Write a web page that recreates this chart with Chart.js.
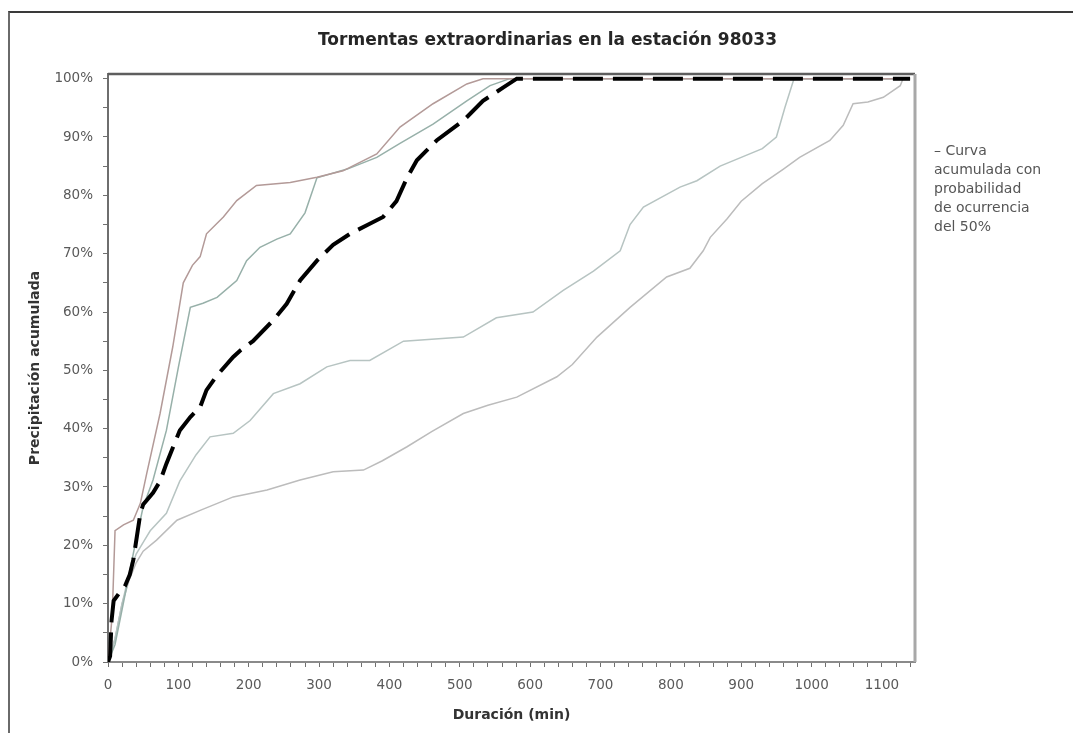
<!DOCTYPE html>
<html>
<head>
<meta charset="utf-8">
<title>Tormentas extraordinarias</title>
<script src="https://cdn.jsdelivr.net/npm/chart.js@4.4.1/dist/chart.umd.min.js"></script>
<style>
  html, body { margin: 0; background: #fff; }
  #page { position: relative; width: 1073px; height: 733px; overflow: hidden; background: #fff; }
  #frame { position: absolute; left: 8px; top: 11px; right: 0; bottom: 0; border-top: 2px solid #3a3a3a; border-left: 2px solid #6a6a6a; }
  #chart { position: absolute; left: 22px; top: 0; }
  #legend { position: absolute; left: 934px; top: 141px; width: 135px; font-family: "DejaVu Sans"; font-size: 14px; line-height: 19px; color: #555; white-space: nowrap; }
</style>
</head>
<body>
<div id="page">
  <div id="frame"></div>
  <canvas id="chart" width="1051" height="733"></canvas>
  <div id="legend"></div>
</div>
<script>
// curva con probabilidad del 50% (duración en min, precipitación acumulada en %)
const dur50 = [0, 3, 5, 8, 17, 24, 31, 36, 41, 46, 50, 64, 74, 83, 102, 117, 131, 140, 154, 178, 188, 206, 235, 254, 273, 297, 320, 344, 370, 391, 410, 425, 439, 467, 505, 533, 562, 581, 1140];
const pct50 = [0, 1, 7, 10.5, 12, 13, 15, 17.5, 21.5, 25.5, 27, 29, 31, 34, 39.7, 42, 43.7, 46.6, 49, 52.3, 53.4, 55, 58.6, 61.4, 65.4, 68.8, 71.5, 73.4, 75, 76.3, 79, 83, 86, 89.4, 92.8, 96.2, 98.5, 100, 100];

// tormentas individuales
const durA = [0, 6, 10, 22, 36, 46, 55, 74, 92, 107, 120, 131, 140, 164, 183, 211, 259, 297, 334, 382, 415, 462, 510, 533, 1140];
const pctA = [0, 8, 22.5, 23.5, 24.3, 27.2, 32.3, 42.6, 54, 65, 68, 69.5, 73.4, 76.3, 79.1, 81.7, 82.2, 83.1, 84.2, 87.1, 91.7, 95.7, 99.1, 100, 100];

const durB = [0, 10, 20, 30, 40, 50, 64, 83, 100, 117, 135, 155, 183, 197, 216, 240, 259, 280, 297, 340, 382, 415, 462, 510, 543, 571, 1140];
const pctB = [0, 3, 9, 15, 21, 26.6, 31.2, 39.7, 50.5, 60.8, 61.5, 62.5, 65.4, 68.8, 71.1, 72.5, 73.4, 77, 83, 84.5, 86.5, 88.9, 92.2, 96.2, 98.8, 100, 100];

const durD = [0, 10, 20, 30, 40, 50, 60, 83, 102, 125, 145, 178, 202, 235, 273, 311, 344, 372, 420, 505, 552, 604, 647, 690, 728, 742, 761, 813, 837, 870, 900, 930, 950, 962, 975, 1140];
const pctD = [0, 4, 10, 15, 18.5, 20.5, 22.5, 25.5, 31, 35.5, 38.6, 39.2, 41.4, 46, 47.7, 50.6, 51.7, 51.7, 55, 55.7, 59, 60, 63.7, 67, 70.5, 75, 78, 81.4, 82.5, 85, 86.5, 88, 90, 95, 100, 100];

const durE = [0, 10, 20, 30, 40, 50, 69, 98, 131, 178, 226, 273, 320, 363, 390, 425, 460, 505, 540, 581, 638, 660, 695, 742, 794, 827, 846, 856, 880, 900, 930, 960, 983, 1026, 1045, 1059, 1080, 1102, 1126, 1130, 1140];
const pctE = [0, 4, 10, 14, 17, 19, 20.9, 24.3, 26, 28.3, 29.5, 31.2, 32.6, 32.9, 34.5, 36.9, 39.5, 42.6, 44, 45.4, 48.9, 51, 55.7, 60.8, 66, 67.5, 70.5, 72.8, 76, 79, 82, 84.5, 86.5, 89.4, 92, 95.7, 96, 96.8, 98.8, 100, 100];

const legendLines = ["– Curva", "acumulada con", "probabilidad", "de ocurrencia", "del 50%"];

function pts(xs, ys) {
  return xs.map((x, i) => ({ x: x, y: ys[i] }));
}

document.getElementById("legend").innerHTML = legendLines.join("<br>");

const font = "DejaVu Sans";

// marco del área de trazado (arriba y derecha)
const framePlugin = {
  id: "frame",
  afterDatasetsDraw(chart) {
    const a = chart.chartArea;
    const ctx = chart.ctx;
    ctx.save();
    ctx.strokeStyle = "#5e5e5e";
    ctx.lineWidth = 2.5;
    ctx.beginPath();
    ctx.moveTo(a.left, a.top);
    ctx.lineTo(a.right, a.top);
    ctx.stroke();
    ctx.strokeStyle = "#a8a8a8";
    ctx.lineWidth = 3;
    ctx.beginPath();
    ctx.moveTo(a.right, a.top);
    ctx.lineTo(a.right, a.bottom);
    ctx.stroke();
    ctx.restore();
  }
};

const thin = { borderWidth: 1.5, pointRadius: 0, tension: 0, fill: false };

new Chart("chart", {
  type: "line",
  data: {
    datasets: [
      {
        label: "Curva acumulada con probabilidad de ocurrencia del 50%",
        data: pts(dur50, pct50),
        borderColor: "#000",
        borderWidth: 4,
        borderDash: [30, 10],
        pointRadius: 0,
        tension: 0,
        fill: false,
      },
      Object.assign({ label: "A", data: pts(durA, pctA), borderColor: "#b39a98" }, thin),
      Object.assign({ label: "B", data: pts(durB, pctB), borderColor: "#97b0a9" }, thin),
      Object.assign({ label: "D", data: pts(durD, pctD), borderColor: "#b7c4c2" }, thin),
      Object.assign({ label: "E", data: pts(durE, pctE), borderColor: "#bcbcbc" }, thin),
    ],
  },
  options: {
    responsive: false,
    animation: false,
    layout: { padding: 0 },
    plugins: {
      legend: { display: false },
      tooltip: { enabled: false },
      title: {
        display: true,
        text: "Tormentas extraordinarias en la estación 98033",
        color: "#262626",
        font: { family: font, size: 17, weight: "bold" },
        padding: { top: 30, bottom: 23.6 },
      },
    },
    scales: {
      x: {
        type: "linear",
        min: 0,
        max: 1147,
        border: { display: true, color: "#8a8a8a", width: 2 },
        grid: { display: true, drawOnChartArea: false, drawTicks: true, tickLength: 5, color: "#707070" },
        ticks: {
          stepSize: 20,
          autoSkip: false,
          includeBounds: false,
          maxRotation: 0,
          padding: 10,
          color: "#595959",
          font: { family: font, size: 13.5 },
          callback: (v) => (v % 100 === 0 ? String(v) : ""),
        },
        title: {
          display: true,
          text: "Duración (min)",
          color: "#333",
          font: { family: font, size: 14, weight: "bold" },
          padding: { top: 4, bottom: 9 },
        },
        afterFit: (s) => { s.height = 71; },
      },
      y: {
        min: 0,
        max: 100.8,
        border: { display: true, color: "#6e6e6e", width: 2 },
        grid: { display: true, drawOnChartArea: false, drawTicks: true, tickLength: 5, color: "#707070" },
        ticks: {
          stepSize: 5,
          autoSkip: false,
          includeBounds: false,
          padding: 10,
          color: "#595959",
          font: { family: font, size: 13.5 },
          callback: (v) => (v % 10 === 0 ? v + "%" : ""),
        },
        title: {
          display: true,
          text: "Precipitación acumulada",
          color: "#333",
          font: { family: font, size: 14, weight: "bold" },
          padding: { top: 5, bottom: 4 },
        },
        afterFit: (s) => { s.width = 86; },
      },
      // espacio a la derecha reservado para la leyenda
      legendSpace: {
        type: "linear",
        position: "right",
        display: true,
        grid: { display: false },
        border: { display: false },
        ticks: { display: false },
        afterFit: (s) => { s.width = 158; },
      },
    },
  },
  plugins: [framePlugin],
});
</script>
</body>
</html>
